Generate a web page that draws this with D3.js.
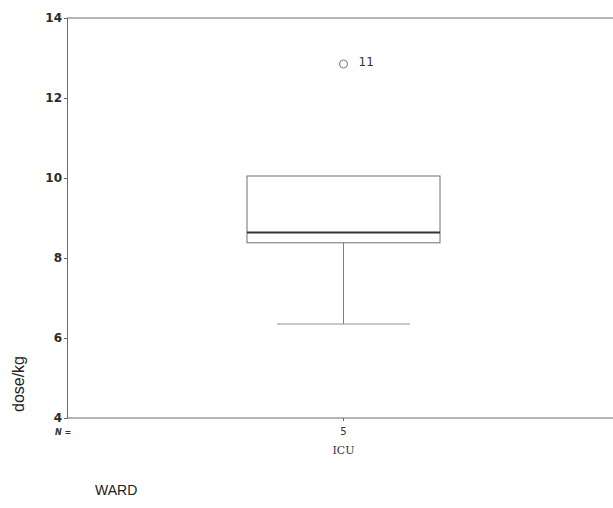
<!DOCTYPE html>
<html><head><meta charset="utf-8">
<script src="https://cdn.jsdelivr.net/npm/d3@7"></script>
<style>body{margin:0;background:#fff;}svg{display:block;}</style>
</head><body>
<svg id="c" width="613" height="508"></svg>
<script>
const groups = ["ICU"];
const counts = [5];
const whiskerLow = [6.35];
const q1 = [8.38];
const median = [8.64];
const q3 = [10.05];
const whiskerHigh = [10.05];
const outlierValues = [12.85];
const outlierLabels = ["11"];
const yTicks = [4, 6, 8, 10, 12, 14];
const yTitle = "dose/kg";
const groupVar = "WARD";

(function () {
const svg = d3.select("#c");
const plotLeft = 67, plotTop = 18, plotBottom = 418, plotRight = 620;
const y = d3.scaleLinear().domain([4, 14]).range([plotBottom, plotTop]);
const x = d3.scalePoint().domain(groups).range([plotLeft, plotRight]).padding(0.5);
const axisCol = "#6a6a6a";

svg.append("line").attr("x1", plotLeft).attr("x2", 613).attr("y1", plotTop).attr("y2", plotTop)
  .attr("stroke", axisCol).attr("stroke-width", 1);
svg.append("line").attr("x1", plotLeft).attr("x2", 613).attr("y1", plotBottom).attr("y2", plotBottom)
  .attr("stroke", axisCol).attr("stroke-width", 1);

const yAxis = d3.axisLeft(y).tickValues(yTicks).tickSize(3).tickPadding(2).tickFormat(d3.format("d"));
const gy = svg.append("g").attr("transform", `translate(${plotLeft},0)`).call(yAxis);
gy.select(".domain").attr("stroke", axisCol);
gy.selectAll(".tick line").attr("stroke", axisCol);
gy.selectAll(".tick text").attr("font-family", "DejaVu Sans").attr("font-size", 12)
  .attr("font-weight", "bold").attr("fill", "#2a2a2a");

svg.append("text").attr("transform", `translate(24,384) rotate(-90)`)
  .attr("text-anchor", "middle").attr("font-family", "Liberation Sans, Arial").attr("font-size", 16)
  .attr("fill", "#222").text(yTitle);

const bw = 193, capW = 133;
groups.forEach((g, i) => {
  const cx = x(g);
  svg.append("line").attr("x1", cx).attr("x2", cx).attr("y1", y(q1[i])).attr("y2", y(whiskerLow[i]))
    .attr("stroke", "#808080").attr("stroke-width", 1);
  svg.append("line").attr("x1", cx - capW / 2).attr("x2", cx + capW / 2)
    .attr("y1", y(whiskerLow[i])).attr("y2", y(whiskerLow[i])).attr("stroke", "#909090").attr("stroke-width", 1);
  svg.append("line").attr("x1", cx).attr("x2", cx).attr("y1", y(q3[i])).attr("y2", y(whiskerHigh[i]))
    .attr("stroke", "#808080").attr("stroke-width", 1);
  svg.append("rect").attr("x", cx - bw / 2).attr("width", bw)
    .attr("y", y(q3[i])).attr("height", y(q1[i]) - y(q3[i]))
    .attr("fill", "none").attr("stroke", "#707070").attr("stroke-width", 1);
  svg.append("line").attr("x1", cx - bw / 2).attr("x2", cx + bw / 2)
    .attr("y1", y(median[i])).attr("y2", y(median[i])).attr("stroke", "#333").attr("stroke-width", 2);
  svg.append("circle").attr("cx", cx).attr("cy", y(outlierValues[i])).attr("r", 4)
    .attr("fill", "none").attr("stroke", "#777").attr("stroke-width", 1);
  svg.append("text").attr("x", cx + 15).attr("y", y(outlierValues[i]) + 2)
    .attr("font-family", "DejaVu Sans").attr("font-size", 12).attr("fill", "#333").text(outlierLabels[i]);
  svg.append("line").attr("x1", cx).attr("x2", cx).attr("y1", plotBottom).attr("y2", plotBottom + 3)
    .attr("stroke", axisCol);
  svg.append("text").attr("x", cx).attr("y", 435).attr("text-anchor", "middle")
    .attr("font-family", "DejaVu Sans").attr("font-size", 10).attr("fill", "#333").text(counts[i]);
  svg.append("text").attr("x", cx).attr("y", 454).attr("text-anchor", "middle")
    .attr("font-family", "DejaVu Serif").attr("font-size", 11).attr("fill", "#333").text(g);
});

svg.append("text").attr("x", 55).attr("y", 435).attr("font-family", "DejaVu Sans")
  .attr("font-size", 8).attr("font-weight", "bold").attr("font-style", "italic").attr("fill", "#333").text("N =");

svg.append("text").attr("x", 95).attr("y", 495).attr("font-family", "Liberation Sans, Arial")
  .attr("font-size", 14).attr("fill", "#222").text(groupVar);
})();
</script>
</body></html>
